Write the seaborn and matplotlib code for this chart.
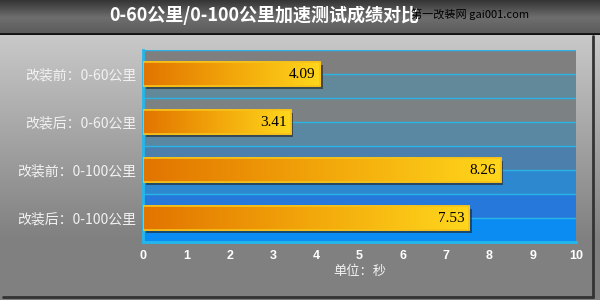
import numpy as np
import pandas as pd
import matplotlib
matplotlib.use("Agg")
import matplotlib.pyplot as plt
import matplotlib.patheffects as pe
from matplotlib.colors import LinearSegmentedColormap
from matplotlib.patches import Rectangle
import seaborn as sns

# данные с картинки
labels = ["改装前：0-60公里", "改装后：0-60公里", "改装前：0-100公里", "改装后：0-100公里"]
seconds = [4.09, 3.41, 8.26, 7.53]
xticks = [0, 1, 2, 3, 4, 5, 6, 7, 8, 9, 10]
title = "0-60公里/0-100公里加速测试成绩对比"
xlabel = "单位：秒"
watermark = "第一改装网 gai001.com"

df = pd.DataFrame({"label": labels, "sec": seconds})

sns.set_style("white")
plt.rcParams['font.family'] = ['Noto Sans CJK SC', 'DejaVu Sans']

fig = plt.figure(figsize=(6, 3), dpi=100)
fig.patch.set_facecolor("#7f7f7f")

# фон панели: градиент от светло-серого к серому
bg = fig.add_axes([0, 0, 1, 1], zorder=0)
grad = np.ones((300, 1))
grad[34:240, 0] = np.linspace(0.0, 1.0, 206)
grad[:34, 0] = 0
panel_cmap = LinearSegmentedColormap.from_list("p", ["#c9c9c9", "#808080"])
bg.imshow(grad, aspect="auto", cmap=panel_cmap, extent=[0, 600, 300, 0])
bg.plot([593, 593], [36, 297], color="#333333", lw=2)
bg.plot([3, 593], [297, 297], color="#333333", lw=2)
bg.set_xlim(0, 600)
bg.set_ylim(300, 0)
bg.axis("off")

# шапка с заголовком
top = fig.add_axes([0, 1 - 35 / 300, 1, 35 / 300], zorder=1)
tg = np.linspace(0, 1, 50).reshape(-1, 1)
top_cmap = LinearSegmentedColormap.from_list("t", ["#353535", "#6e6e6e", "#5a5a5a"])
top.imshow(tg, aspect="auto", cmap=top_cmap, extent=[0, 1, 0, 1])
top.axhline(0.02, color="#111111", lw=2)
top.axis("off")
top.text(0.44, 0.55, title, color="white", fontsize=13, fontweight="bold",
         ha="center", va="center", transform=top.transAxes)
top.text(0.685, 0.6, watermark, color="black", fontsize=8, ha="left", va="center",
         transform=top.transAxes, family=["Noto Sans CJK SC", "DejaVu Sans Mono"])

ax = fig.add_axes([143 / 600, 1 - 242 / 300, (576 - 143) / 600, 192 / 300], zorder=2)

# полосы фона графика
band_colors = ["#7f7f7f", "#62899a", "#7c8184", "#5a88a2", "#4d7fac", "#2e88cf", "#2679da", "#0a8cf2"]
for k, c in enumerate(band_colors):
    ax.axhspan(-0.5 + k * 0.5, k * 0.5, color=c, zorder=0, lw=0)

sns.barplot(data=df, y="label", x="sec", orient="h", width=0.5, ax=ax,
            color="#e88a00", edgecolor="#f5c518", linewidth=1.2, zorder=2)

bar_cmap = LinearSegmentedColormap.from_list("b", ["#e27400", "#f2a60a", "#ffd71c"])
hg = np.linspace(0, 1, 256).reshape(1, -1)
for p in ax.containers[0]:
    p.set_path_effects([pe.SimplePatchShadow(offset=(2, -2), shadow_rgbFace="#202020", alpha=0.6),
                        pe.Normal()])
    x0, y0, w, h = p.get_x(), p.get_y(), p.get_width(), p.get_height()
    im = ax.imshow(hg, aspect="auto", cmap=bar_cmap, extent=[x0, x0 + w, y0 + h, y0], zorder=3)
    im.set_clip_path(p)
    ax.add_patch(Rectangle((x0, y0), w, h, fill=False, edgecolor="#f7c21a", lw=1.2, zorder=4))

for i, v in enumerate(seconds):
    ax.text(v - 0.1, i, f"{v:.2f}", ha="right", va="center", fontsize=11,
            family=["Liberation Serif", "DejaVu Serif"], color="black", zorder=5)

ax.set_xlim(0, 10)
ax.set_ylim(3.5, -0.5)
ax.set_xticks(xticks)
ax.set_xticklabels([str(t) for t in xticks], color="white", fontsize=9, fontweight="bold",
                   family=["Liberation Sans", "DejaVu Sans"])
ax.set_yticks(range(len(labels)))
ax.set_yticklabels(labels, color="#f2f2f2", fontsize=10)
ax.set_yticks([-0.5, 0.5, 1.5, 2.5, 3.5], minor=True)
ax.tick_params(axis="y", which="major", length=0, pad=5)
ax.tick_params(axis="y", which="minor", length=4, width=2, color="#22b8ee", direction="out")
ax.tick_params(axis="x", length=4, width=2, color="#22b8ee", direction="out", pad=2)
for g in np.arange(-0.5, 3.6, 0.5):
    ax.axhline(g, color="#2ab4e6", lw=1, zorder=1)
ax.set_xlabel(xlabel, color="#f2f2f2", fontsize=9.5, labelpad=2)
ax.set_ylabel("")
for s in ["top", "right"]:
    ax.spines[s].set_visible(False)
for s in ["left", "bottom"]:
    ax.spines[s].set_color("#22b8ee")
    ax.spines[s].set_linewidth(2)

fig.savefig("out.png", dpi=100)
